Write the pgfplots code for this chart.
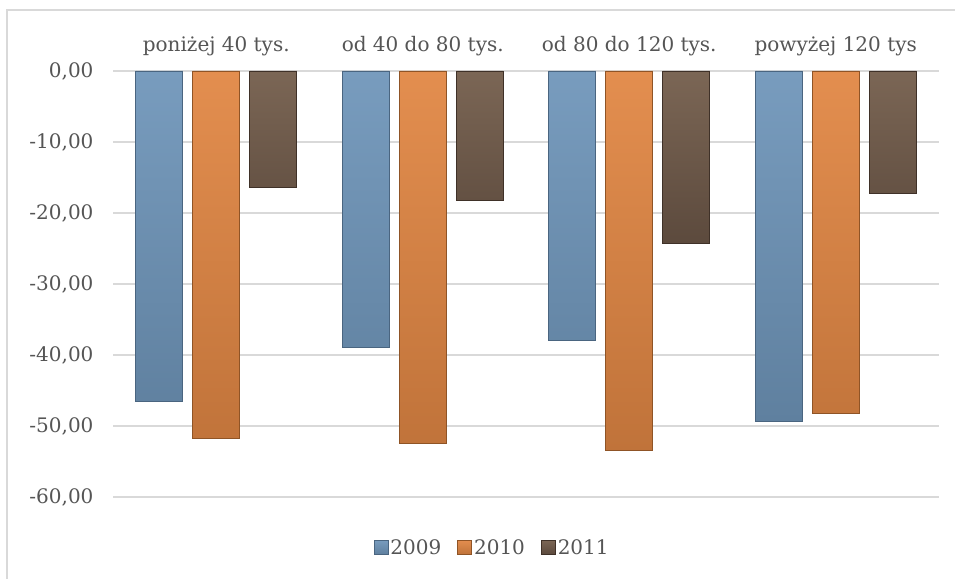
\documentclass[border=0pt]{standalone}
\usepackage{fontspec}
\setmainfont{DejaVu Serif}
\usepackage{pgfplots}
\pgfplotsset{compat=1.18}
\definecolor{txt}{HTML}{555555}
\definecolor{gridc}{HTML}{D9D9D9}
\definecolor{frame}{HTML}{D9D9D9}
\definecolor{bAt}{HTML}{789CBE}\definecolor{bAb}{HTML}{5F809F}\definecolor{bAd}{HTML}{4A6580}
\definecolor{bBt}{HTML}{E38E4F}\definecolor{bBb}{HTML}{C0733A}\definecolor{bBd}{HTML}{8F5426}
\definecolor{bCt}{HTML}{7B6655}\definecolor{bCb}{HTML}{5C4A3D}\definecolor{bCd}{HTML}{3F3128}
\begin{document}
\begin{tikzpicture}
\useasboundingbox (0,0) rectangle (955bp,579bp);
\draw[frame, line width=1.2bp] (7bp,0) -- (7bp,569bp) -- (955bp,569bp);
\begin{axis}[
  at={(113bp,82bp)}, anchor=south west,
  scale only axis, width=826bp, height=426bp,
  xmin=-0.5, xmax=3.5, ymin=-60, ymax=0,
  ybar=10bp, bar width=47bp,
  xtick={0,1,2,3},
  xticklabels={poniżej 40 tys., od 40 do 80 tys., od 80 do 120 tys., powyżej 120 tys},
  xticklabel pos=upper,
  ytick={-60,-50,-40,-30,-20,-10,0},
  ymajorgrids, grid style={gridc, line width=1.5bp},
  major tick length=0pt,
  axis line style={draw=none},
  font=\fontsize{20bp}{24bp}\selectfont,
  tick label style={text=txt},
  xticklabel style={anchor=base, yshift=19bp},
  yticklabel style={anchor=east, xshift=-16bp},
  /pgf/number format/assume math mode=true,
  yticklabel={\pgfmathprintnumber[fixed, fixed zerofill, precision=2, use comma]{\tick}},
  legend columns=3,
  legend style={at={(0.459,-0.12)}, anchor=center, draw=none, fill=none,
    text=txt, font=\fontsize{20bp}{24bp}\selectfont, inner sep=0pt,
    /tikz/every even column/.append style={column sep=14bp}},
  legend image code/.code={\fill[#1] (0bp,-6bp) rectangle (14bp,8bp);},
]
\addplot[top color=bAt, bottom color=bAb, draw=bAd, line width=0.8bp] coordinates {(0,-46.6) (1,-38.9) (2,-38.0) (3,-49.3)};
\addplot[top color=bBt, bottom color=bBb, draw=bBd, line width=0.8bp] coordinates {(0,-51.7) (1,-52.5) (2,-53.5) (3,-48.2)};
\addplot[top color=bCt, bottom color=bCb, draw=bCd, line width=0.8bp] coordinates {(0,-16.4) (1,-18.2) (2,-24.3) (3,-17.2)};
\legend{2009,2010,2011}
\end{axis}
\end{tikzpicture}
\end{document}
